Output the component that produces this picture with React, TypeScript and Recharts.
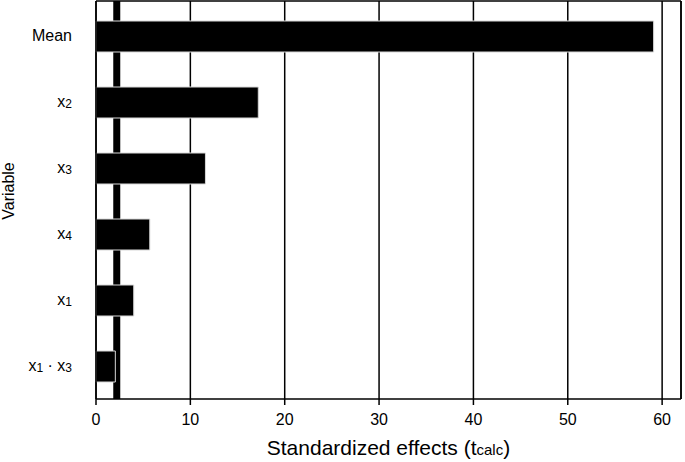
import React from "react";
import { BarChart, Bar, XAxis, YAxis, CartesianGrid } from "recharts";

const variables = ["Mean", "x2", "x3", "x4", "x1", "x1·x3"];
const effects = [59.1, 17.2, 11.6, 5.7, 4.0, 2.05];
const tCritical = 2.2;
const xTicks = [0, 10, 20, 30, 40, 50, 60];
const xMax = 62;

const data = variables.map((v, i) => ({ name: v, effect: effects[i] }));

const FONT = "'Liberation Sans', Arial, sans-serif";

const YTick = (props: any) => {
  const { x, y, payload } = props;
  const label: string = payload.value;
  const parts: React.ReactNode[] = [];
  const re = /(x)(\d)|([^x\d]+)/g;
  let m: RegExpExecArray | null;
  let k = 0;
  while ((m = re.exec(label)) !== null) {
    if (m[1]) {
      parts.push(<tspan key={k++} fontSize={16}>x</tspan>);
      parts.push(<tspan key={k++} fontSize={12} dy={1}>{m[2]}</tspan>);
      parts.push(<tspan key={k++} fontSize={16} dy={-1}>{"\u200B"}</tspan>);
    } else if (m[3]) {
      const s = m[3] === "·" ? " · " : m[3];
      parts.push(<tspan key={k++} fontSize={16}>{s}</tspan>);
    }
  }
  return (
    <text x={x - 16} y={y} dy={5} textAnchor="end" fill="#000" fontFamily={FONT} style={{ whiteSpace: "pre" }}>
      {parts}
    </text>
  );
};

const XTitle = (props: any) => {
  const vb = props.viewBox || {};
  const cx = (vb.x ?? 0) + (vb.width ?? 0) / 2;
  const y = (vb.y ?? 0) + (vb.height ?? 0) - 7;
  return (
    <text x={cx} y={y} textAnchor="middle" fill="#000" fontFamily={FONT} fontSize={21}>
      <tspan>Standardized effects (t</tspan>
      <tspan fontSize={15}>calc</tspan>
      <tspan>)</tspan>
    </text>
  );
};

const YTitle = (props: any) => {
  const vb = props.viewBox || {};
  const x = (vb.x ?? 0) + 14;
  const cy = (vb.y ?? 0) + (vb.height ?? 0) / 2 - 9;
  return (
    <text x={x} y={cy} transform={`rotate(-90 ${x} ${cy})`} textAnchor="middle" fill="#000" fontFamily={FONT} fontSize={16}>
      Variable
    </text>
  );
};

const critGen = (props: any) => {
  const xa = props.xAxis;
  if (xa && typeof xa.scale === "function") {
    return [xa.scale(tCritical)];
  }
  const off = props.offset;
  return [off.left + (off.width * tCritical) / xMax];
};

const frameV = (props: any) => [props.offset.left + props.offset.width];
const frameH = (props: any) => [props.offset.top];

export default function App() {
  return (
    <div style={{ position: "absolute", left: 0, top: 0, background: "#fff" }}>
      <BarChart
        width={685}
        height={462}
        data={data}
        layout="vertical"
        margin={{ top: 1, right: 4, left: 0, bottom: 0 }}
      >
        <CartesianGrid horizontal={false} vertical={true} stroke="#000" strokeWidth={1.5} />
        <CartesianGrid horizontal={true} vertical={true} stroke="#000" strokeWidth={1.5} verticalCoordinatesGenerator={frameV} horizontalCoordinatesGenerator={frameH} />
        <CartesianGrid horizontal={false} vertical={true} stroke="#000" strokeWidth={7} verticalCoordinatesGenerator={critGen} />
        <XAxis
          type="number"
          dataKey="effect"
          domain={[0, xMax]}
          ticks={xTicks}
          height={63}
          tickSize={6}
          tickMargin={9}
          stroke="#000"
          strokeWidth={1.5}
          tick={{ fill: "#000", fontSize: 16, fontFamily: FONT }}
          label={<XTitle />}
        />
        <YAxis
          type="category"
          dataKey="name"
          width={96}
          tickLine={false}
          stroke="#000"
          strokeWidth={1.5}
          tick={<YTick />}
          padding={{ top: 2, bottom: 0 }}
          label={<YTitle />}
        />
        <Bar dataKey="effect" fill="#000" stroke="#d8d8d8" strokeWidth={1} barSize={31} isAnimationActive={false} />
      </BarChart>
    </div>
  );
}
